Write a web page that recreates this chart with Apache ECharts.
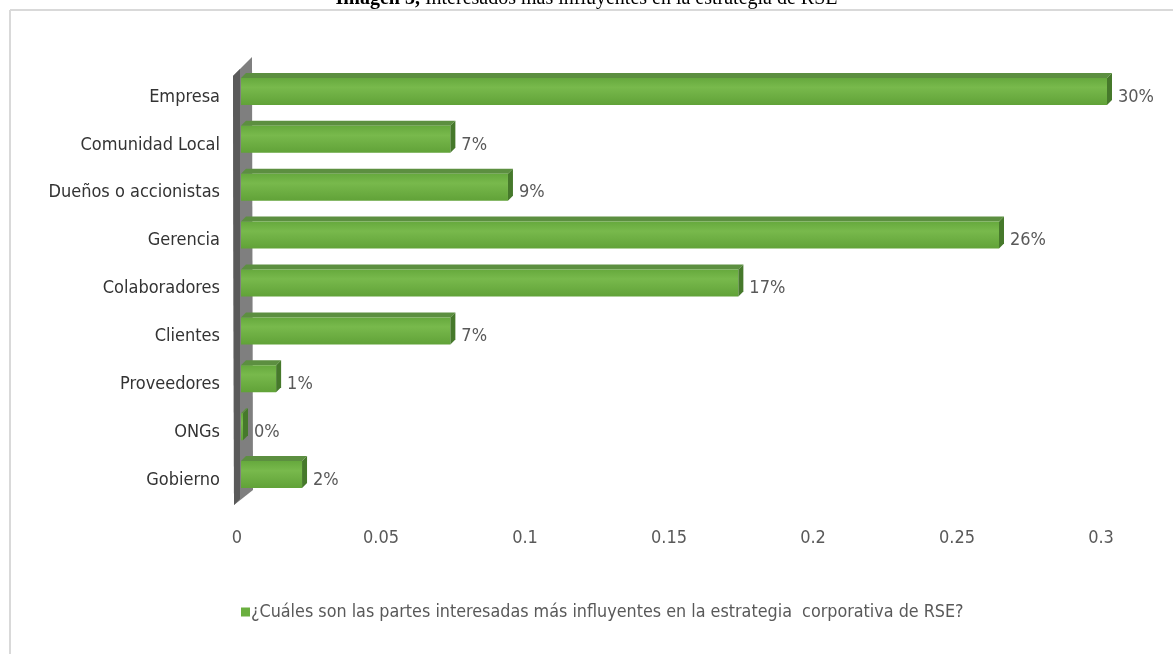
<!DOCTYPE html>
<html>
<head>
<meta charset="utf-8">
<script src="https://cdn.jsdelivr.net/npm/echarts@6/dist/echarts.min.js"></script>
<style>
html,body{margin:0;padding:0;background:#fff;}
#main{width:1173px;height:654px;}
</style>
</head>
<body>
<div id="main"></div>
<script>
const categories = ['Empresa','Comunidad Local','Dueños o accionistas','Gerencia','Colaboradores','Clientes','Proveedores','ONGs','Gobierno'];
const values = [0.30, 0.072, 0.092, 0.2625, 0.172, 0.072, 0.0115, 0, 0.0205];
const xTicks = [0, 0.05, 0.1, 0.15, 0.2, 0.25, 0.3];
const seriesName = '¿Cuáles son las partes interesadas más influyentes en la estrategia  corporativa de RSE?';
const titleBold = 'Imagen 3,';
const titleRest = ' Interesados más influyentes en la estrategia de RSE';

const FONT = "'DejaVu Sans Condensed', 'Liberation Sans Narrow', sans-serif";
const chart = echarts.init(document.getElementById('main'));

const DX = 5, DY = 5; // 3D depth offset

function renderItem(params, api) {
  const v = api.value(0), ci = api.value(1);
  const p0 = api.coord([0, ci]);
  const p1 = api.coord([v, ci]);
  const c = p0[1];
  const xs = p0[0] + 4, xe = p1[0] + 6;
  const ft = c - 19, fb = c + 8;
  const children = [];
  const hasBody = xe - xs > 0.5;
  if (hasBody) {
    children.push({
      type: 'polygon',
      shape: { points: [[xs, ft], [xs + DX, ft - DY], [xe + DX, ft - DY], [xe, ft]] },
      style: { fill: '#5c8f40' }
    });
    children.push({
      type: 'rect',
      shape: { x: xs, y: ft, width: xe - xs, height: fb - ft },
      style: { fill: new echarts.graphic.LinearGradient(0, 0, 0, 1, [
        { offset: 0, color: '#66a93d' },
        { offset: 0.35, color: '#78b94c' },
        { offset: 1, color: '#61a238' }
      ]) }
    });
  }
  children.push({
    type: 'polygon',
    shape: { points: [[xe, ft], [xe + DX, ft - DY], [xe + DX, fb - DY], [xe, fb]] },
    style: { fill: hasBody ? '#46792b' : '#1c3310' }
  });
  children.push({
    type: 'text',
    style: {
      text: Math.round(v * 100) + '%',
      x: xe + DX + 6, y: c,
      verticalAlign: 'middle', align: 'left',
      fill: '#595959', font: '18px ' + FONT
    }
  });
  return { type: 'group', children };
}

const option = {
  animation: false,
  backgroundColor: '#fff',
  title: {
    text: '{b|' + titleBold + '}{n|' + titleRest + '}',
    left: 'center', top: -16,
    textStyle: {
      rich: {
        b: { fontFamily: 'Liberation Serif', fontWeight: 'bold', fontSize: 20, color: '#000' },
        n: { fontFamily: 'Liberation Serif', fontWeight: 'normal', fontSize: 20, color: '#000' }
      }
    }
  },
  grid: { left: 237, right: 72, top: 73, bottom: 150, containLabel: false },
  xAxis: {
    type: 'value', min: 0, max: 0.3, interval: 0.05,
    axisLine: { show: false }, axisTick: { show: false }, splitLine: { show: false },
    axisLabel: {
      color: '#595959', fontFamily: FONT, fontSize: 18, margin: 25,
      formatter: function (v) { return xTicks.indexOf(Math.round(v * 100) / 100) >= 0 ? String(Math.round(v * 100) / 100) : ''; }
    }
  },
  yAxis: {
    type: 'category', data: categories, inverse: true,
    axisLine: { show: false }, axisTick: { show: false },
    axisLabel: { color: '#333333', fontFamily: FONT, fontSize: 18, margin: 17 }
  },
  legend: {
    show: true, left: 236, top: 598,
    icon: 'rect', itemWidth: 9, itemHeight: 9, itemGap: 4,
    textStyle: { color: '#595959', fontFamily: FONT, fontSize: 17.8, padding: [0, 0, 0, -4] },
    data: [{ name: seriesName, itemStyle: { color: '#6aaf3f' } }]
  },
  series: [{
    type: 'custom', name: seriesName, z: 3,
    encode: { x: 0, y: 1 },
    itemStyle: { color: '#6aaf3f' },
    data: values.map((v, i) => [v, i]),
    renderItem
  }]
};
chart.setOption(option);

// decorative frame and 3D wall, positioned through the chart's own scales
const o = chart.convertToPixel({ gridIndex: 0 }, [0, 0]);
const last = chart.convertToPixel({ gridIndex: 0 }, [0, categories.length - 1]);
const x0 = o[0], cT = o[1], cB = last[1];
chart.setOption({
  graphic: [
    { type: 'line', z: 0, shape: { x1: 10, y1: 10, x2: 1173, y2: 10 }, style: { stroke: '#d9d9d9', lineWidth: 2 } },
    { type: 'line', z: 0, shape: { x1: 10, y1: 10, x2: 10, y2: 654 }, style: { stroke: '#d9d9d9', lineWidth: 2 } },
    { type: 'polygon', z: 0, shape: { points: [[x0 - 4, cT - 21], [x0 + 15, cT - 40], [x0 + 16, cB + 10], [x0 - 3, cB + 25]] }, style: { fill: '#7f7f7f' } },
    { type: 'polygon', z: 0, shape: { points: [[x0 - 4, cT - 21], [x0 + 3, cT - 28], [x0 + 3, cB + 19], [x0 - 3, cB + 25]] }, style: { fill: '#5a5a5a' } }
  ]
});
</script>
</body>
</html>
